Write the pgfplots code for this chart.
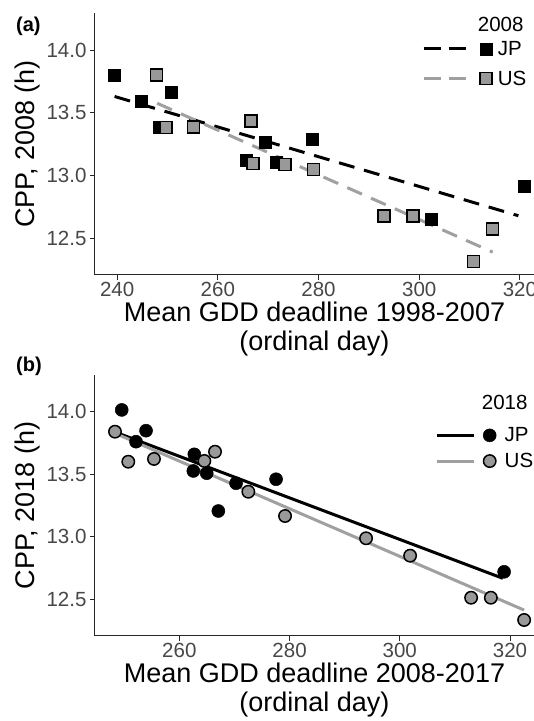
\documentclass[border=0pt]{standalone}
\usepackage{pgfplots}
\pgfplotsset{compat=1.18}
\usepackage{fontspec}
\setmainfont{Liberation Sans}
\definecolor{ptgray}{HTML}{999999}
\definecolor{lngray}{HTML}{A0A0A0}

\pgfplotstableread{
x y
239.5 13.80
244.85 13.594
248.35 13.387
250.8 13.66
265.7 13.124
269.4 13.262
271.7 13.106
278.8 13.291
302.3 12.655
320.9 12.917
}\jpA
\pgfplotstableread{
x y
247.8 13.80
249.7 13.381
255.2 13.387
266.6 13.435
267.0 13.098
273.3 13.087
279.0 13.05
293.0 12.678
298.8 12.678
310.8 12.315
314.6 12.575
}\usA
\pgfplotstableread{
x y
249.55 14.014
252.14 13.76
253.96 13.848
262.54 13.526
262.72 13.659
264.97 13.508
267.08 13.206
270.29 13.428
277.55 13.46
318.93 12.72
}\jpB
\pgfplotstableread{
x y
248.33 13.84
250.74 13.60
255.4 13.622
264.54 13.606
266.48 13.68
272.52 13.36
279.18 13.166
293.88 12.988
301.87 12.849
312.94 12.513
316.52 12.513
322.56 12.335
}\usB

\pgfplotsset{
 panel/.style={
  scale only axis, width=439pt,
  axis lines=left, axis line style={-, line width=1pt, black!85},
  tick align=outside, major tick length=5pt, tick style={line width=1pt, black!85},
  every tick label/.append style={font=\fontsize{20.5}{24}\selectfont, text=black!72},
  /pgf/number format/assume math mode=true,
  yticklabel style={/pgf/number format/.cd, fixed, fixed zerofill, precision=1},
  xticklabel style={inner sep=2pt},
  ytick={12.5,13,13.5,14},
  ymin=12.208, ymax=14.295,
  label style={font=\fontsize{27}{29}\selectfont},
  xlabel style={align=center},
  legend cell align=left,
  legend style={draw=none, fill=none, inner sep=0pt,
    font=\fontsize{20.5}{22}\selectfont},
 }
}

\begin{document}
\begin{tikzpicture}
\begin{axis}[panel, at={(95pt,446pt)}, anchor=south west, height=262pt,
  xmin=235.6, xmax=322.8, xtick={240,260,280,300,320},
  xlabel={Mean GDD deadline 1998-2007\\(ordinal day)},
  ylabel={CPP, 2008 (h)},
  legend style={at={(rel axis cs:0.745,0.9008)}, anchor=north west, row sep=10pt}]
\addplot[forget plot, only marks, mark=square*, mark size=6pt, mark options={draw=black, fill=black, line width=0.5pt}] table[x=x,y=y]{\jpA};
\addplot[forget plot, only marks, mark=square*, mark size=6pt, mark options={draw=black, fill=ptgray, line width=1.5pt}] table[x=x,y=y]{\usA};
\addplot[forget plot, black, line width=3pt, dash pattern=on 16pt off 10pt] coordinates {(239.5,13.63) (319.7,12.68)};
\addplot[forget plot, lngray, line width=3pt, dash pattern=on 16pt off 10pt] coordinates {(247.95,13.576) (314.6,12.39)};
\addlegendimage{legend image code/.code={
  \path[draw=none, fill=none, opacity=0] (0pt,-6pt) rectangle (72pt,6pt);
  \draw[black, line width=3pt, dash pattern=on 17pt off 8pt] (0pt,0pt) -- (43pt,0pt);
  \path plot[mark=square*, mark size=6pt, mark options={draw=black, fill=black, line width=0.5pt}] coordinates {(62pt,0pt)};}}
\addlegendentry{JP}
\addlegendimage{legend image code/.code={
  \path[draw=none, fill=none, opacity=0] (0pt,-6pt) rectangle (72pt,6pt);
  \draw[lngray, line width=3pt, dash pattern=on 17pt off 8pt] (0pt,0pt) -- (43pt,0pt);
  \path plot[mark=square*, mark size=6pt, mark options={draw=black, fill=ptgray, line width=1.5pt}] coordinates {(62pt,0pt)};}}
\addlegendentry{US}
\node[anchor=base west, inner sep=0pt, font=\fontsize{20.5}{22}\selectfont] at (rel axis cs:0.8718,0.9275) {2008};
\end{axis}

\begin{axis}[panel, at={(95pt,85pt)}, anchor=south west, height=261pt,
  xmin=244.7, xmax=324.35, xtick={260,280,300,320},
  ymin=12.207, ymax=14.293,
  xlabel={Mean GDD deadline 2008-2017\\(ordinal day)},
  ylabel={CPP, 2018 (h)},
  legend style={at={(rel axis cs:0.7745,0.807)}, anchor=north west, row sep=6pt}]
\addplot[forget plot, only marks, mark=*, mark size=6.5pt, mark options={draw=black, fill=black, line width=0.5pt}] table[x=x,y=y]{\jpB};
\addplot[forget plot, only marks, mark=*, mark size=6.2pt, mark options={draw=black, fill=ptgray, line width=1.5pt}] table[x=x,y=y]{\usB};
\addplot[forget plot, black, line width=3pt] coordinates {(249.24,13.822) (318.7,12.668)};
\addplot[forget plot, lngray, line width=3pt] coordinates {(248.33,13.827) (322.56,12.414)};
\addlegendimage{legend image code/.code={
  \path[draw=none, fill=none, opacity=0] (0pt,-6pt) rectangle (66pt,6pt);
  \draw[black, line width=3pt] (0pt,0pt) -- (37pt,0pt);
  \path plot[mark=*, mark size=6.5pt, mark options={draw=black, fill=black, line width=0.5pt}] coordinates {(53pt,0pt)};}}
\addlegendentry{JP}
\addlegendimage{legend image code/.code={
  \path[draw=none, fill=none, opacity=0] (0pt,-6pt) rectangle (66pt,6pt);
  \draw[lngray, line width=3pt] (0pt,0pt) -- (37pt,0pt);
  \path plot[mark=*, mark size=6.2pt, mark options={draw=black, fill=ptgray, line width=1.5pt}] coordinates {(53pt,0pt)};}}
\addlegendentry{US}
\node[anchor=base west, inner sep=0pt, font=\fontsize{20.5}{22}\selectfont] at (rel axis cs:0.8809,0.8659) {2018};
\end{axis}

\node[anchor=west, inner sep=0pt, font=\bfseries\fontsize{20}{22}\selectfont] at (16pt,695pt) {(a)};
\node[anchor=west, inner sep=0pt, font=\bfseries\fontsize{20}{22}\selectfont] at (16pt,355pt) {(b)};
\pgfresetboundingbox
\useasboundingbox (0,0) rectangle (534pt,721pt);
\end{tikzpicture}
\end{document}
